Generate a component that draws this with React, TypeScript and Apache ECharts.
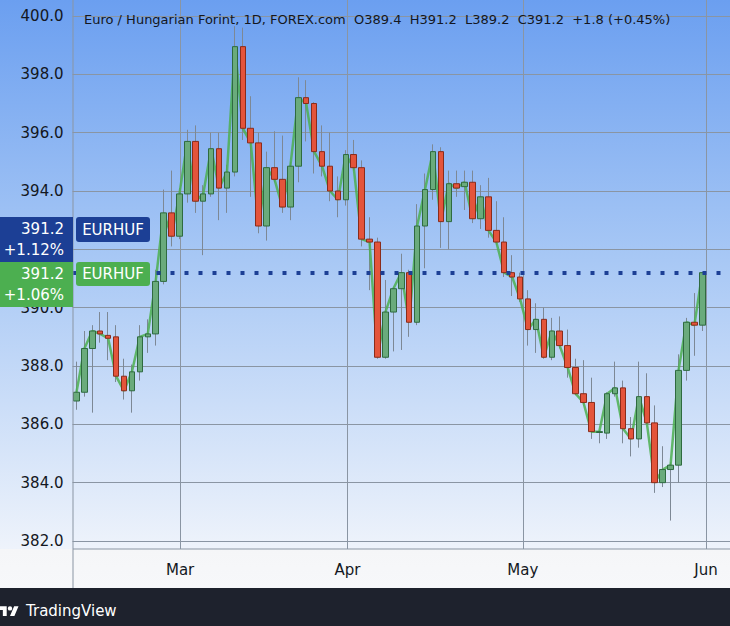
import React, { useEffect, useRef } from "react";
import * as echarts from "echarts";

// daily bars, Feb 13 - Jun 3 (weekdays), plus a few empty days at the right edge
const dates = [
  "2024-02-13", "2024-02-14", "2024-02-15", "2024-02-16", "2024-02-19", "2024-02-20", "2024-02-21",
  "2024-02-22", "2024-02-23", "2024-02-26", "2024-02-27", "2024-02-28", "2024-02-29",
  "2024-03-01", "2024-03-04", "2024-03-05", "2024-03-06", "2024-03-07", "2024-03-08", "2024-03-11",
  "2024-03-12", "2024-03-13", "2024-03-14", "2024-03-15", "2024-03-18", "2024-03-19", "2024-03-20",
  "2024-03-21", "2024-03-22", "2024-03-25", "2024-03-26", "2024-03-27", "2024-03-28", "2024-03-29",
  "2024-04-01", "2024-04-02", "2024-04-03", "2024-04-04", "2024-04-05", "2024-04-08", "2024-04-09",
  "2024-04-10", "2024-04-11", "2024-04-12", "2024-04-15", "2024-04-16", "2024-04-17", "2024-04-18",
  "2024-04-19", "2024-04-22", "2024-04-23", "2024-04-24", "2024-04-25", "2024-04-26", "2024-04-29",
  "2024-04-30",
  "2024-05-01", "2024-05-02", "2024-05-03", "2024-05-06", "2024-05-07", "2024-05-08", "2024-05-09",
  "2024-05-10", "2024-05-13", "2024-05-14", "2024-05-15", "2024-05-16", "2024-05-17", "2024-05-20",
  "2024-05-21", "2024-05-22", "2024-05-23", "2024-05-24", "2024-05-27", "2024-05-28", "2024-05-29",
  "2024-05-30", "2024-05-31",
  "2024-06-03", "2024-06-04", "2024-06-05", "2024-06-06",
];

const opens = [
  386.8, 387.1, 388.6, 389.2, 389.05, 389.0, 387.65, 387.15, 387.8, 389.0, 389.1, 390.9, 393.25,
  392.45, 393.9, 395.7, 393.65, 393.9, 395.45, 394.1, 394.65, 398.95, 396.15, 395.65, 392.8, 394.8,
  394.4, 393.45, 394.85, 397.2, 397.0, 395.35, 394.85, 394.0,
  393.7, 395.25, 394.8, 392.35, 392.25, 388.3, 389.85, 390.65, 391.2, 389.5, 392.8, 394.05, 395.35,
  392.95, 394.25, 394.15, 394.3, 393.05, 393.8, 392.65, 392.25, 391.2,
  391.05, 390.3, 389.25, 389.6, 388.3, 389.2, 388.7, 387.95, 387.05, 386.75, 385.72, 385.7, 387.05,
  387.25, 385.85, 385.5, 386.95, 386.05, 384.0, 384.45, 384.6, 387.85, 389.5,
  389.4,
];
const closes = [
  387.1, 388.6, 389.2, 389.1, 388.95, 387.65, 387.15, 387.8, 389.0, 389.1, 390.9, 393.25, 392.45,
  393.9, 395.7, 393.65, 393.9, 395.45, 394.1, 394.65, 398.95, 396.15, 395.65, 392.8, 394.8, 394.4,
  393.45, 394.85, 397.2, 397.0, 395.35, 394.85, 394.0, 393.7,
  395.25, 394.8, 392.35, 392.25, 388.3, 389.85, 390.65, 391.2, 389.5, 392.8, 394.05, 395.35, 392.95,
  394.25, 394.1, 394.3, 393.05, 393.8, 392.65, 392.25, 391.2, 391.05,
  390.3, 389.25, 389.6, 388.3, 389.2, 388.7, 387.95, 387.05, 386.75, 385.75, 385.75, 387.05, 387.25,
  385.85, 385.5, 386.95, 386.05, 384.0, 384.45, 384.6, 387.85, 389.5, 389.4,
  391.2,
];
const highs = [
  388.15, 389.2, 389.4, 389.85, 389.85, 389.4, 388.25, 388.05, 389.4, 389.6, 391.3, 394.05, 394.7,
  394.1, 396.1, 396.25, 394.2, 396.0, 396.0, 394.9, 399.65, 399.6, 397.25, 396.0, 395.35, 396.05,
  395.9, 395.0, 397.9, 397.8, 397.05, 396.25, 396.0, 394.5,
  395.4, 395.75, 395.05, 393.1, 392.4, 390.95, 390.7, 391.85, 391.3, 393.55, 394.6, 395.6, 395.5,
  394.7, 394.7, 394.7, 394.7, 394.2, 394.45, 393.65, 393.1, 391.8,
  391.2, 390.6, 390.15, 390.0, 389.65, 389.7, 389.25, 388.25, 388.2, 387.6, 385.8, 387.1, 388.15,
  387.5, 386.25, 388.15, 387.75, 386.65, 385.25, 384.7, 388.4, 389.65, 390.5,
  391.2,
];
const lows = [
  386.5, 386.95, 386.4, 388.8, 388.2, 387.45, 386.85, 386.4, 387.5, 388.45, 388.7, 390.8, 392.1,
  392.35, 393.6, 393.25, 391.8, 393.8, 393.0, 393.25, 394.5, 395.75, 393.8, 392.55, 392.3, 394.3,
  393.25, 393.0, 394.3, 395.7, 394.6, 394.5, 393.65, 393.1,
  393.5, 394.7, 392.1, 390.6, 388.25, 388.25, 388.5, 388.55, 389.0, 389.4, 391.35, 393.7, 392.05,
  392.0, 393.8, 393.35, 392.9, 392.7, 392.4, 392.15, 391.05, 390.4,
  390.2, 388.7, 388.45, 388.25, 388.2, 388.6, 387.6, 387.0, 386.7, 385.5, 385.35, 385.5, 386.95,
  385.35, 384.9, 385.2, 386.0, 383.65, 383.85, 382.7, 384.0, 387.5, 388.35,
  389.2,
];

const monthStarts = ["2024-03-01", "2024-04-01", "2024-05-01", "2024-06-03"];
const monthNames = ["Mar", "Apr", "May", "Jun"];

const lastPrice = 391.2;
// the 392.0 tick is covered by the price labels on the scale
const hiddenTicks = [392];
const titleText =
  "Euro / Hungarian Forint, 1D, FOREX.com  O389.4  H391.2  L389.2  C391.2  +1.8 (+0.45%)";

const FONT = "DejaVu Sans";
const GRID_COLOR = "#8a95a3";
const BLUE = "#1c3f95";
const GREEN = "#4caf50";

// TradingView logo
echarts.graphic.registerShape(
  "tvlogo",
  echarts.graphic.extendPath(
    "M14 22H7V11H0V4h14v18zM28 22h-8l7.5-18h8L28 22zM24 8a4 4 0 1 1-8 0a4 4 0 1 1 8 0z",
    {}
  )
);

const App = () => {
  const chartRef = useRef<HTMLDivElement>(null);

  useEffect(() => {
    document.body.style.margin = "0";
    if (!chartRef.current) return;
    const chart = echarts.init(chartRef.current, null, { renderer: "svg" });

    const wickData = opens.map((o, i) => [o, closes[i], lows[i], highs[i]]);
    const bodyData = opens.map((o, i) => [o, closes[i], Math.min(o, closes[i]), Math.max(o, closes[i])]);

    const option = {
      animation: false,
      backgroundColor: "transparent",
      title: {
        text: titleText,
        left: 79,
        top: 8,
        textStyle: { fontFamily: FONT, fontSize: 13, fontWeight: "normal", color: "#131722" },
      },
      grid: [
        { left: 72.5, right: -4, top: 16, bottom: 85 },
        { left: 76.5, right: 0, top: 0, bottom: 77 },
      ],
      xAxis: [
        { type: "category", gridIndex: 0, data: dates, boundaryGap: true, show: false },
        {
          type: "category",
          gridIndex: 1,
          data: dates,
          boundaryGap: false,
          axisLine: { show: false },
          axisTick: { show: false },
          splitLine: {
            show: true,
            interval: (_i: number, v: string) => monthStarts.includes(v),
            lineStyle: { color: GRID_COLOR, width: 1 },
          },
          axisLabel: {
            interval: (_i: number, v: string) => monthStarts.includes(v),
            formatter: (v: string) => monthNames[monthStarts.indexOf(v)] ?? "",
            margin: 13,
            fontFamily: FONT,
            fontSize: 15,
            color: "#131722",
          },
        },
      ],
      yAxis: [
        {
          type: "value",
          gridIndex: 0,
          min: 382,
          max: 400,
          interval: 2,
          axisLine: { show: false },
          axisTick: { show: false },
          axisLabel: {
            formatter: (v: number) => (hiddenTicks.includes(v) ? "" : v.toFixed(1)),
            margin: 9,
            fontFamily: FONT,
            fontSize: 15,
            color: "#131722",
          },
          splitLine: { lineStyle: { color: GRID_COLOR, width: 1 } },
        },
        { type: "value", gridIndex: 1, min: 0, max: 1, show: false },
      ],
      series: [
        {
          name: "wicks",
          type: "candlestick",
          xAxisIndex: 0,
          yAxisIndex: 0,
          data: wickData,
          barWidth: 1,
          silent: true,
          z: 2,
          itemStyle: {
            color: "#7d8895",
            color0: "#7d8895",
            borderColor: "#7d8895",
            borderColor0: "#7d8895",
            borderWidth: 1,
          },
        },
        {
          name: "close",
          type: "line",
          xAxisIndex: 0,
          yAxisIndex: 0,
          data: closes,
          symbol: "none",
          silent: true,
          z: 3,
          lineStyle: { color: GREEN, width: 2.5, opacity: 0.85 },
        },
        {
          name: "EURHUF",
          type: "candlestick",
          xAxisIndex: 0,
          yAxisIndex: 0,
          data: bodyData,
          barWidth: 6,
          z: 4,
          itemStyle: {
            color: "#6aab7c",
            color0: "#e4543b",
            borderColor: "#2f6b40",
            borderColor0: "#8a2c1b",
            borderWidth: 1,
          },
          markLine: {
            silent: true,
            symbol: ["none", "none"],
            label: { show: false },
            lineStyle: { color: BLUE, type: [4, 10], width: 4 },
            data: [{ yAxis: lastPrice }],
          },
        },
      ],
      graphic: [
        { type: "line", z: 100, shape: { x1: 73, y1: 0, x2: 73, y2: 588 }, style: { stroke: GRID_COLOR, lineWidth: 1 } },
        { type: "line", z: 100, shape: { x1: 73, y1: 549, x2: 730, y2: 549 }, style: { stroke: GRID_COLOR, lineWidth: 1 } },
        { type: "rect", z: 100, shape: { x: 0, y: 588, width: 730, height: 38 }, style: { fill: "#1e222d" } },
        { type: "tvlogo", z: 101, x: -1, y: 604, scaleX: 0.55, scaleY: 0.55, style: { fill: "#ffffff" } },
        {
          type: "text",
          z: 101,
          x: 26,
          y: 611,
          style: { text: "TradingView", fill: "#ffffff", font: `15px "${FONT}"`, textVerticalAlign: "middle" },
        },
        // price scale labels
        { type: "rect", z: 100, shape: { x: 0, y: 217, width: 73, height: 45 }, style: { fill: BLUE } },
        {
          type: "text",
          z: 101,
          x: 64,
          y: 229,
          style: { text: "391.2", fill: "#fff", font: `15px "${FONT}"`, textAlign: "right", textVerticalAlign: "middle" },
        },
        {
          type: "text",
          z: 101,
          x: 64,
          y: 250,
          style: { text: "+1.12%", fill: "#fff", font: `15px "${FONT}"`, textAlign: "right", textVerticalAlign: "middle" },
        },
        { type: "rect", z: 100, shape: { x: 0, y: 262, width: 73, height: 45 }, style: { fill: GREEN } },
        {
          type: "text",
          z: 101,
          x: 64,
          y: 274,
          style: { text: "391.2", fill: "#fff", font: `15px "${FONT}"`, textAlign: "right", textVerticalAlign: "middle" },
        },
        {
          type: "text",
          z: 101,
          x: 64,
          y: 295,
          style: { text: "+1.06%", fill: "#fff", font: `15px "${FONT}"`, textAlign: "right", textVerticalAlign: "middle" },
        },
        { type: "rect", z: 100, shape: { x: 76, y: 217, width: 74, height: 25, r: 3 }, style: { fill: BLUE } },
        {
          type: "text",
          z: 101,
          x: 113,
          y: 229.5,
          style: { text: "EURHUF", fill: "#fff", font: `15px "${FONT}"`, textAlign: "center", textVerticalAlign: "middle" },
        },
        { type: "rect", z: 100, shape: { x: 76, y: 262, width: 74, height: 24, r: 3 }, style: { fill: GREEN } },
        {
          type: "text",
          z: 101,
          x: 113,
          y: 274,
          style: { text: "EURHUF", fill: "#fff", font: `15px "${FONT}"`, textAlign: "center", textVerticalAlign: "middle" },
        },
      ],
    };

    chart.setOption(option);

    return () => {
      chart.dispose();
    };
  }, []);

  return (
    <div
      ref={chartRef}
      style={{
        width: "730px",
        height: "626px",
        background:
          "linear-gradient(to bottom, #6b9ff0 0px, #a8c8f5 260px, #eef3fb 549px, #f5f6f8 549px, #f7f8fa 588px)",
      }}
    ></div>
  );
};

export default App;
